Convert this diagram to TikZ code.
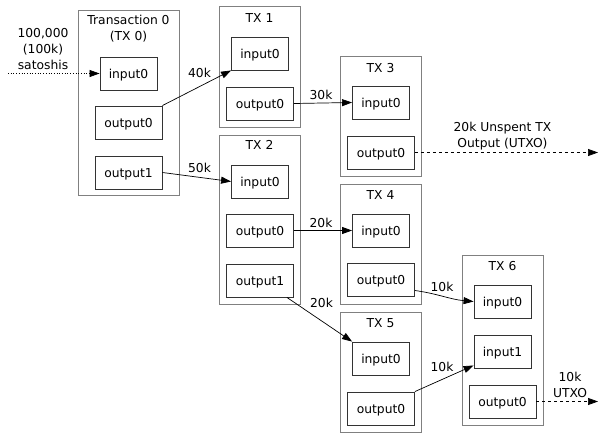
\documentclass[tikz,border=0pt]{standalone}
\usepackage{fontspec}
\setmainfont{DejaVu Sans}
\usetikzlibrary{arrows.meta, positioning}

\begin{document}
\begin{tikzpicture}[
    x=1pt, y=-1pt,
    ramme/.style = {rectangle, draw=black!50, line width=1pt, inner sep=0pt},
    felt/.style = {rectangle, draw=black!80, line width=0.9pt, inner sep=0pt,
                   minimum height=33pt, text height=12pt, text depth=2.9pt},
    inn/.style = {felt, minimum width=57pt},
    ut/.style = {felt, minimum width=67pt},
    pil/.style = {draw, black, line width=0.7pt, -{Triangle[length=10pt, width=7pt]}},
    font=\fontsize{12.3}{16}\selectfont
    ]
  \useasboundingbox (0,0) rectangle (615,441);

  % transaction 0
  \node[ramme, minimum width=101pt, minimum height=184pt] (tx0) at (128.5,103) {} ;
  \node[align=center] (tx0title) at (128.5,29) {Transaction 0\\(TX 0)} ;
  \node[inn] (tx0in0) at (128.5,73.5) {input0} ;
  \node[ut] (tx0out0) at (128.5,122.5) {output0} ;
  \node[ut] (tx0out1) at (128.5,172.5) {output1} ;
  \node[align=center] (sats) at (43,49) {100,000\\(100k)\\satoshis} ;
  \coordinate (start) at (8,73.5) ;

  % TX 1
  \node[ramme, minimum width=81pt, minimum height=120pt] (tx1) at (259.5,67) {} ;
  \node (tx1title) at (259.5,18) {TX 1} ;
  \node[inn] (tx1in0) at (260,53.5) {input0} ;
  \node[ut] (tx1out0) at (260,103.5) {output0} ;

  % TX 2
  \node[ramme, minimum width=81pt, minimum height=169pt] (tx2) at (259.5,219.5) {} ;
  \node (tx2title) at (259.5,145) {TX 2} ;
  \node[inn] (tx2in0) at (260,181.5) {input0} ;
  \node[ut] (tx2out0) at (260,230.5) {output0} ;
  \node[ut] (tx2out1) at (260,280.5) {output1} ;

  % TX 3
  \node[ramme, minimum width=81pt, minimum height=119pt] (tx3) at (380.5,116.5) {} ;
  \node (tx3title) at (380.5,68) {TX 3} ;
  \node[inn] (tx3in0) at (381,102.5) {input0} ;
  \node[ut] (tx3out0) at (381,152.5) {output0} ;
  \coordinate (utxo1) at (598,152.5) ;

  % TX 4
  \node[ramme, minimum width=81pt, minimum height=120pt] (tx4) at (380.5,244) {} ;
  \node (tx4title) at (380.5,195) {TX 4} ;
  \node[inn] (tx4in0) at (381,230.5) {input0} ;
  \node[ut] (tx4out0) at (381,279.5) {output0} ;

  % TX 5
  \node[ramme, minimum width=81pt, minimum height=120pt] (tx5) at (380.5,372) {} ;
  \node (tx5title) at (380.5,323) {TX 5} ;
  \node[inn] (tx5in0) at (381,358.5) {input0} ;
  \node[ut] (tx5out0) at (381,408.5) {output0} ;

  % TX 6
  \node[ramme, minimum width=81pt, minimum height=170pt] (tx6) at (502.5,340) {} ;
  \node (tx6title) at (502.5,266) {TX 6} ;
  \node[inn] (tx6in0) at (502.5,301.5) {input0} ;
  \node[inn] (tx6in1) at (502.5,351.5) {input1} ;
  \node[ut] (tx6out0) at (502.5,401.5) {output0} ;
  \coordinate (utxo2) at (598,401.5) ;

  % amounts
  \node (a40) at (199.5,73) {40k} ;
  \node (a50) at (199.5,168) {50k} ;
  \node (a30) at (321,95) {30k} ;
  \node (a20a) at (321,222.5) {20k} ;
  \node (a20b) at (321.5,303) {20k} ;
  \node (a10a) at (442,286.5) {10k} ;
  \node (a10b) at (442,366.5) {10k} ;
  \node[align=center] (u20) at (502.5,136.5) {20k Unspent TX\\Output (UTXO)} ;
  \node[align=center] (u10) at (570,385) {10k\\UTXO} ;

  \path[every edge/.style={pil}]
  (start) edge[dotted] (tx0in0.west)
  (tx0out0.north east) edge (tx1in0.south west)
  (tx0out1.east) edge (tx2in0.west)
  (tx1out0.east) edge (tx3in0.west)
  (tx2out0.east) edge (tx4in0.west)
  ([xshift=-7pt]tx2out1.south east) edge (tx5in0.north west)
  ([yshift=-11pt]tx4out0.east) edge[out=-8, in=175] (tx6in0.west)
  (tx5out0.north east) edge ([yshift=3pt]tx6in1.south west)
  (tx3out0.east) edge[dashed] (utxo1)
  (tx6out0.east) edge[dashed] (utxo2) ;
\end{tikzpicture}
\end{document}
